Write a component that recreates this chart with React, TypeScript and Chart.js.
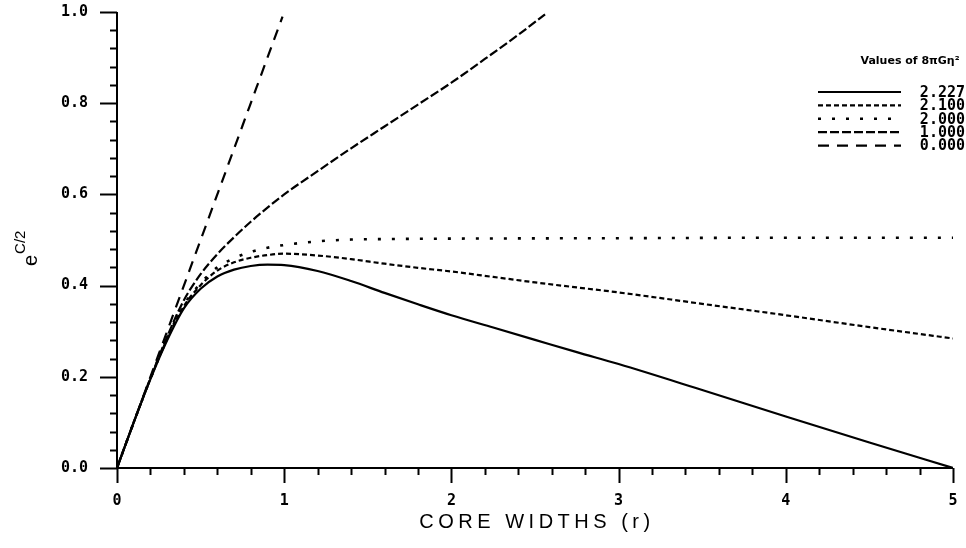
import React, { useEffect, useRef } from "react";
import { Chart, registerables } from "chart.js";

Chart.register(...registerables);

// core widths (r) and e^{C/2}, one pair of arrays per series
const r2227 = [0, 0.1, 0.2, 0.3, 0.4, 0.5, 0.6, 0.7, 0.8, 0.9, 1.0, 1.2, 1.4, 1.6, 1.8, 2.0, 2.25, 2.5, 2.75, 3.0, 3.5, 4.0, 4.5, 5.0];
const e2227 = [0, 0.1, 0.195, 0.28, 0.35, 0.393, 0.42, 0.435, 0.443, 0.446, 0.445, 0.432, 0.41, 0.384, 0.359, 0.335, 0.308, 0.281, 0.254, 0.228, 0.171, 0.113, 0.056, 0.0];

const r2100 = [0, 0.1, 0.2, 0.3, 0.4, 0.5, 0.6, 0.7, 0.8, 0.9, 1.0, 1.2, 1.4, 1.6, 1.8, 2.0, 2.25, 2.5, 2.75, 3.0, 3.5, 4.0, 4.5, 5.0];
const e2100 = [0, 0.1, 0.196, 0.283, 0.355, 0.401, 0.433, 0.451, 0.461, 0.467, 0.47, 0.466, 0.458, 0.448, 0.439, 0.431, 0.419, 0.407, 0.396, 0.385, 0.36, 0.335, 0.309, 0.284];

const r2000 = [0, 0.1, 0.2, 0.3, 0.4, 0.5, 0.6, 0.7, 0.8, 0.9, 1.0, 1.2, 1.4, 1.6, 2.0, 3.0, 4.0, 5.0];
const e2000 = [0, 0.1, 0.196, 0.284, 0.358, 0.405, 0.44, 0.46, 0.474, 0.483, 0.489, 0.497, 0.501, 0.502, 0.503, 0.504, 0.505, 0.505];

const r1000 = [0, 0.1, 0.2, 0.3, 0.4, 0.5, 0.6, 0.7, 0.8, 0.9, 1.0, 1.2, 1.4, 1.6, 1.8, 2.0, 2.2, 2.4, 2.56];
const e1000 = [0, 0.1, 0.197, 0.288, 0.368, 0.425, 0.469, 0.506, 0.54, 0.571, 0.6, 0.651, 0.701, 0.749, 0.797, 0.845, 0.897, 0.95, 0.995];

const r0000 = [0, 0.25, 0.5, 0.75, 0.99];
const e0000 = [0, 0.25, 0.5, 0.75, 0.99];

const seriesLabels = ["2.227", "2.100", "2.000", "1.000", "0.000"];
const legendTitle = "Values of 8\u03C0G\u03B7\u00B2";
const xTitle = "CORE WIDTHS (r)";
const yTitleBase = "e";
const yTitleSup = "C/2";

const xMin = 0, xMax = 5, xMajor = 1, xMinor = 0.2;
const yMin = 0, yMax = 1, yMajor = 0.2, yMinor = 0.04;

const dashes: number[][] = [[], [5, 3], [3, 11], [9, 3], [11, 8]];
const widths = [2.2, 2.2, 2.6, 2.2, 2.2];

const pairs = (xs: number[], ys: number[]) => xs.map((x, i) => ({ x, y: ys[i] }));

export default function App() {
  const ref = useRef<HTMLCanvasElement | null>(null);

  useEffect(() => {
    const canvas = ref.current;
    if (!canvas) return;
    const seriesData = [
      pairs(r2227, e2227),
      pairs(r2100, e2100),
      pairs(r2000, e2000),
      pairs(r1000, e1000),
      pairs(r0000, e0000),
    ];

    const decor = {
      id: "decor",
      afterDraw(chart: any) {
        const ctx = chart.ctx as CanvasRenderingContext2D;
        const xs = chart.scales.x;
        const ys = chart.scales.y;
        const area = chart.chartArea;
        ctx.save();
        ctx.strokeStyle = "#000";
        ctx.lineWidth = 2;
        ctx.setLineDash([]);
        // axis lines
        ctx.beginPath();
        ctx.moveTo(area.left, area.top);
        ctx.lineTo(area.left, area.bottom);
        ctx.lineTo(area.right, area.bottom);
        ctx.stroke();
        // y ticks
        const ny = Math.round((yMax - yMin) / yMinor);
        for (let i = 0; i <= ny; i++) {
          const v = yMin + i * yMinor;
          const p = Math.round(ys.getPixelForValue(v)) + 0.5;
          const major = i % Math.round(yMajor / yMinor) === 0;
          ctx.beginPath();
          ctx.moveTo(area.left - (major ? 17 : 7), p);
          ctx.lineTo(area.left, p);
          ctx.stroke();
        }
        // x ticks
        const nx = Math.round((xMax - xMin) / xMinor);
        for (let i = 0; i <= nx; i++) {
          const v = xMin + i * xMinor;
          const p = Math.round(xs.getPixelForValue(v)) + 0.5;
          const major = i % Math.round(xMajor / xMinor) === 0;
          ctx.beginPath();
          ctx.moveTo(p, area.bottom);
          ctx.lineTo(p, area.bottom + (major ? 15 : 7));
          ctx.stroke();
        }
        // x title
        ctx.fillStyle = "#000";
        ctx.font = "20px 'Liberation Sans', Arial, sans-serif";
        (ctx as any).letterSpacing = "4.5px";
        ctx.textAlign = "center";
        ctx.textBaseline = "middle";
        ctx.fillText(xTitle, (area.left + area.right) / 2 + 2, 522);
        (ctx as any).letterSpacing = "0px";
        // y title (rotated)
        ctx.save();
        ctx.translate(37, 266);
        ctx.rotate(-Math.PI / 2);
        ctx.textAlign = "left";
        ctx.textBaseline = "alphabetic";
        ctx.font = "20px 'Liberation Sans', Arial, sans-serif";
        ctx.fillText(yTitleBase, 0, 0);
        const ew = ctx.measureText(yTitleBase).width;
        ctx.font = "15px 'Liberation Sans', Arial, sans-serif";
        ctx.fillText(yTitleSup, ew + 1, -12);
        ctx.restore();
        // legend
        ctx.font = "bold 11px 'DejaVu Sans', sans-serif";
        ctx.textAlign = "center";
        ctx.textBaseline = "middle";
        ctx.fillText(legendTitle, 910, 61);
        chart.data.datasets.forEach((ds: any, i: number) => {
          const y = 92 + i * 13.4;
          ctx.strokeStyle = "#000";
          ctx.lineWidth = ds.borderWidth;
          ctx.setLineDash(ds.borderDash || []);
          ctx.beginPath();
          ctx.moveTo(818, y);
          ctx.lineTo(901, y);
          ctx.stroke();
          ctx.setLineDash([]);
          ctx.font = "bold 15px 'DejaVu Sans Mono', monospace";
          ctx.textAlign = "right";
          ctx.fillText(ds.label, 965, y + 1);
        });
        ctx.restore();
      },
    };

    const chart = new Chart(canvas, {
      type: "line",
      data: {
        datasets: seriesData.map((d, i) => ({
          label: seriesLabels[i],
          data: d,
          borderColor: "#000",
          backgroundColor: "#000",
          borderWidth: widths[i],
          borderDash: dashes[i],
          pointRadius: 0,
          fill: false,
          cubicInterpolationMode: "monotone" as const,
        })),
      },
      options: {
        animation: false,
        responsive: false,
        maintainAspectRatio: false,
        layout: { padding: { top: 12, right: 13, left: 0, bottom: 0 } },
        plugins: {
          legend: { display: false },
          tooltip: { enabled: false },
          title: { display: false },
        },
        scales: {
          x: {
            type: "linear",
            min: xMin,
            max: xMax,
            grid: { display: false },
            border: { display: false },
            afterFit: (s: any) => {
              s.height = 80;
              s.paddingLeft = 0;
              s.paddingRight = 0;
              s.paddingTop = 0;
              s.paddingBottom = 0;
            },
            ticks: {
              stepSize: xMajor,
              autoSkip: false,
              maxRotation: 0,
              padding: 16,
              color: "#000",
              font: { family: "'DejaVu Sans Mono', monospace", size: 15, weight: "bold" },
              callback: (v: any) => String(Math.round(Number(v))),
            },
          },
          y: {
            type: "linear",
            min: yMin,
            max: yMax,
            grid: { display: false },
            border: { display: false },
            afterFit: (s: any) => {
              s.width = 117;
              s.paddingLeft = 0;
              s.paddingRight = 0;
              s.paddingTop = 0;
              s.paddingBottom = 0;
            },
            ticks: {
              stepSize: yMajor,
              autoSkip: false,
              padding: 21,
              color: "#000",
              font: { family: "'DejaVu Sans Mono', monospace", size: 15, weight: "bold" },
              callback: (v: any) => Number(v).toFixed(1),
            },
          },
        },
      },
      plugins: [decor],
    });
    return () => chart.destroy();
  }, []);

  return (
    <div style={{ position: "fixed", left: 0, top: 0, width: 966, height: 548, background: "#fff" }}>
      <canvas ref={ref} width={966} height={548} style={{ display: "block" }} />
    </div>
  );
}
